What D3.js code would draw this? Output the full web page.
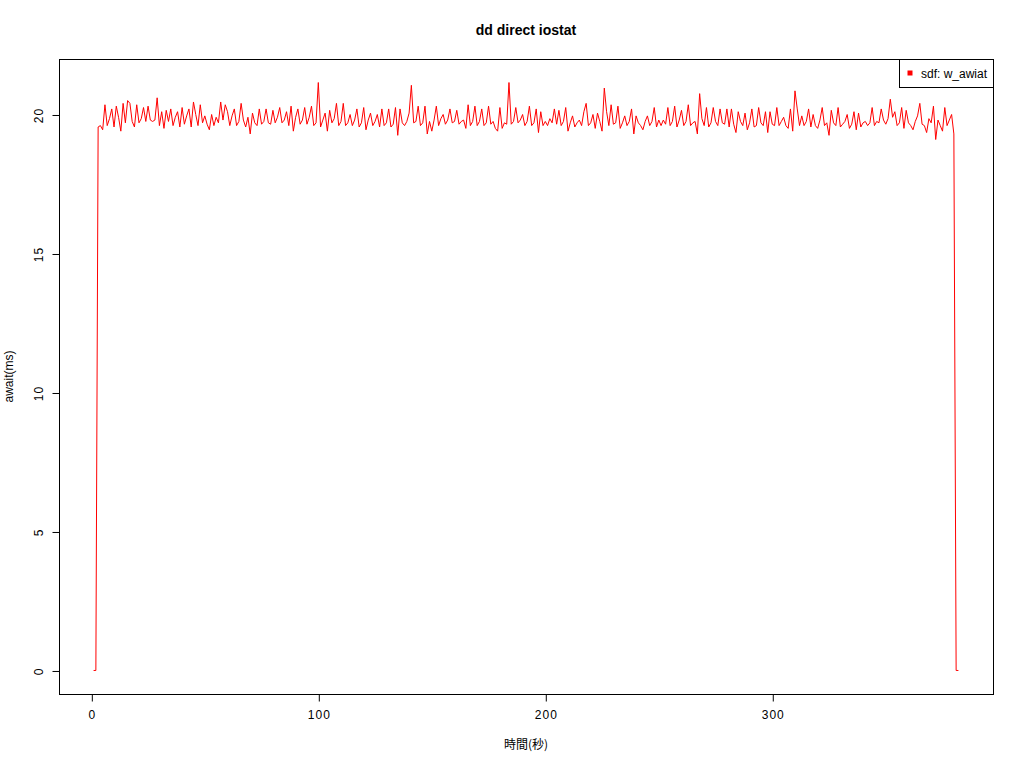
<!DOCTYPE html>
<html>
<head>
<meta charset="utf-8">
<script src="https://cdn.jsdelivr.net/npm/d3@7"></script>
<style>
  html, body { margin: 0; padding: 0; background: #fff; }
  svg text { font-family: "Liberation Sans", Arial, sans-serif; }
</style>
</head>
<body>
<svg id="chart" width="1024" height="768"></svg>
<script>
// ---- data ----
const chartTitle = "dd direct iostat";
const xLabel = "時間(秒)";
const yLabel = "await(ms)";
const seriesName = "sdf: w_awiat";
const xTicks = [0, 100, 200, 300];
const yTicks = [0, 5, 10, 15, 20];
const firstTime = 1; // seconds, first sample
const awaitMs = [
  0, 0,
  19.55, 19.6, 19.45, 20.35, 19.6, 19.85, 20.2, 19.55, 20.3, 19.9,
  19.4, 20.4, 19.7, 20.5, 20.4, 19.75, 19.55, 20.35, 19.7, 19.85,
  20.25, 19.75, 20.3, 19.8, 19.75, 19.8, 20.6, 19.6, 20.1, 19.5,
  20.15, 19.75, 20.2, 19.6, 19.9, 20.1, 19.55, 20.25, 19.65, 19.95,
  20.2, 19.55, 20.45, 20.0, 19.6, 20.35, 19.7, 19.95, 19.65, 19.45,
  20.0, 19.6, 19.9, 19.7, 20.45, 19.8, 20.35, 20.1, 19.6, 19.95,
  20.2, 19.6, 19.75, 20.4, 19.8, 19.55, 19.9, 19.3, 20.05, 19.7,
  19.6, 20.2, 19.65, 19.75, 20.2, 19.7, 19.65, 20.15, 19.7, 19.9,
  20.25, 19.7, 19.8, 20.1, 19.6, 20.3, 19.4, 19.9, 20.2, 19.65,
  19.8, 20.25, 19.65, 19.9, 20.3, 19.6, 19.7, 21.15, 19.55, 19.8,
  20.05, 19.4, 20.15, 19.7, 19.85, 20.4, 19.6, 19.75, 20.4, 19.6,
  19.7, 20.0, 19.6, 19.8, 20.2, 19.55, 19.7, 20.25, 19.45, 19.8,
  20.05, 19.6, 19.75, 20.0, 19.55, 20.2, 19.6, 19.7, 20.2, 19.55,
  19.65, 20.25, 19.25, 20.2, 19.7, 19.6, 19.75, 20.05, 21.05, 19.7,
  19.75, 20.3, 19.6, 19.7, 20.3, 19.3, 19.75, 19.4, 19.8, 20.3,
  19.6, 19.85, 20.0, 19.65, 19.8, 20.2, 19.7, 19.75, 20.15, 19.65,
  19.75, 19.8, 19.5, 20.35, 19.6, 19.75, 20.3, 19.6, 19.75, 20.2,
  19.6, 19.7, 20.3, 19.65, 19.75, 19.5, 19.4, 20.25, 19.5, 19.7,
  19.65, 21.15, 19.65, 19.75, 20.25, 19.7, 19.8, 20.0, 19.6, 19.75,
  20.3, 19.6, 19.7, 20.2, 19.35, 20.1, 19.6, 19.75, 19.6, 19.85,
  19.7, 20.2, 19.65, 20.15, 19.6, 19.75, 20.25, 19.4, 19.7, 19.95,
  19.55, 19.7, 19.8, 19.6, 20.1, 20.4, 19.6, 19.7, 20.0, 19.5,
  20.05, 19.75, 19.4, 20.95, 20.1, 19.6, 20.35, 19.65, 19.7, 20.3,
  19.5, 19.7, 19.95, 19.6, 19.75, 20.2, 19.3, 19.95, 19.7, 19.6,
  19.45, 19.75, 19.95, 19.6, 19.75, 20.25, 19.55, 19.8, 19.6, 19.8,
  19.65, 20.25, 19.6, 19.75, 20.3, 19.55, 19.8, 20.15, 19.6, 19.75,
  20.35, 19.6, 19.7, 19.75, 19.3, 20.75, 19.85, 19.6, 20.25, 19.55,
  19.7, 20.25, 19.75, 19.6, 20.2, 19.7, 19.65, 20.2, 19.55, 20.2,
  19.65, 19.35, 20.1, 19.75, 19.6, 20.05, 19.45, 19.7, 20.2, 19.55,
  19.6, 20.25, 19.7, 19.6, 20.1, 19.35, 20.1, 19.65, 19.6, 20.25,
  19.6, 19.75, 19.9, 19.6, 19.5, 20.2, 19.4, 20.85, 20.2, 19.6,
  19.95, 19.6, 19.75, 20.2, 19.55, 20.0, 19.6, 19.5, 19.8, 20.25,
  19.6, 19.7, 19.25, 20.15, 19.7, 19.6, 20.25, 19.55, 19.65, 19.75,
  20.0, 19.5, 19.65, 20.1, 19.45, 20.05, 19.55, 19.7, 19.75, 19.6,
  19.7, 20.25, 19.6, 19.75, 19.7, 20.2, 19.8, 19.65, 19.85, 20.55,
  19.9, 20.1, 19.6, 19.7, 20.25, 19.5, 20.15, 19.7, 19.6, 19.45,
  19.75, 19.95, 20.4, 19.65, 19.6, 19.35, 19.85, 19.7, 20.3, 19.1,
  19.8, 19.6, 19.4, 20.25, 19.6, 19.8, 20.0, 19.3,
  0, 0
];

const points = awaitMs.map((v, i) => ({ t: firstTime + i, v }));

// ---- layout ----
const svg = d3.select("#chart");
const plot = { left: 59, right: 993, top: 59, bottom: 694 };

// R-style 4% padding of the data range
const xExt = d3.extent(points, d => d.t);
const yExt = d3.extent(points, d => d.v);
const xPad = (xExt[1] - xExt[0]) * 0.04;
const yPad = (yExt[1] - yExt[0]) * 0.04;

const x = d3.scaleLinear()
  .domain([xExt[0] - xPad, xExt[1] + xPad])
  .range([plot.left, plot.right]);
const y = d3.scaleLinear()
  .domain([yExt[0] - yPad, yExt[1] + yPad])
  .range([plot.bottom, plot.top]);

// data line
const line = d3.line().x(d => x(d.t)).y(d => y(d.v));
svg.append("path")
  .datum(points)
  .attr("d", line)
  .attr("fill", "none")
  .attr("stroke", "#ff0000")
  .attr("stroke-width", 1);

// plot box
svg.append("rect")
  .attr("x", plot.left + 0.5).attr("y", plot.top + 0.5)
  .attr("width", plot.right - plot.left).attr("height", plot.bottom - plot.top)
  .attr("fill", "none").attr("stroke", "#000").attr("stroke-width", 1);

// x axis
const xAxis = d3.axisBottom(x).tickValues(xTicks).tickSize(7).tickPadding(9)
  .tickFormat(d3.format("d"));
const gx = svg.append("g")
  .attr("transform", `translate(0.5,${plot.bottom + 0.5})`)
  .call(xAxis);
gx.select(".domain").attr("d", `M${x(xTicks[0])},0H${x(xTicks[xTicks.length - 1])}`);
gx.selectAll("text").attr("font-size", 12).attr("font-family", "Liberation Sans, Arial, sans-serif")
  .attr("fill", "#000").style("letter-spacing", "1px");

// y axis
const yAxis = d3.axisLeft(y).tickValues(yTicks).tickSize(7).tickFormat(d3.format("d"));
const gy = svg.append("g")
  .attr("transform", `translate(${plot.left + 0.5},0.5)`)
  .call(yAxis);
gy.select(".domain").attr("d", `M0,${y(yTicks[0])}V${y(yTicks[yTicks.length - 1])}`);
gy.selectAll(".tick text")
  .attr("x", null).attr("dy", null)
  .attr("transform", "translate(-17,0) rotate(-90)")
  .attr("text-anchor", "middle")
  .attr("dominant-baseline", "auto")
  .attr("y", 0)
  .attr("font-size", 12).attr("font-family", "Liberation Sans, Arial, sans-serif")
  .attr("fill", "#000").style("letter-spacing", "1px");

// title
svg.append("text")
  .attr("x", (plot.left + plot.right) / 2).attr("y", 35)
  .attr("text-anchor", "middle")
  .attr("font-size", 14).attr("font-weight", "bold")
  .text(chartTitle);

// x label
svg.append("text")
  .attr("x", (plot.left + plot.right) / 2).attr("y", 749)
  .attr("text-anchor", "middle")
  .attr("font-size", 12)
  .style("font-family", "'Noto Sans CJK JP', 'Liberation Sans', sans-serif")
  .text(xLabel);

// y label
svg.append("text")
  .attr("transform", `translate(13,${(plot.top + plot.bottom) / 2}) rotate(-90)`)
  .attr("text-anchor", "middle")
  .attr("font-size", 12)
  .text(yLabel);

// legend
const lg = svg.append("g");
lg.append("rect")
  .attr("x", 899.5).attr("y", plot.top + 0.5)
  .attr("width", plot.right - 899).attr("height", 28)
  .attr("fill", "#fff").attr("stroke", "#000").attr("stroke-width", 1);
lg.append("rect")
  .attr("x", 907.5).attr("y", 70.5).attr("width", 5).attr("height", 5)
  .attr("fill", "#ff0000");
lg.append("text")
  .attr("x", 921).attr("y", 78)
  .attr("font-size", 12)
  .text(seriesName);
</script>
</body>
</html>
